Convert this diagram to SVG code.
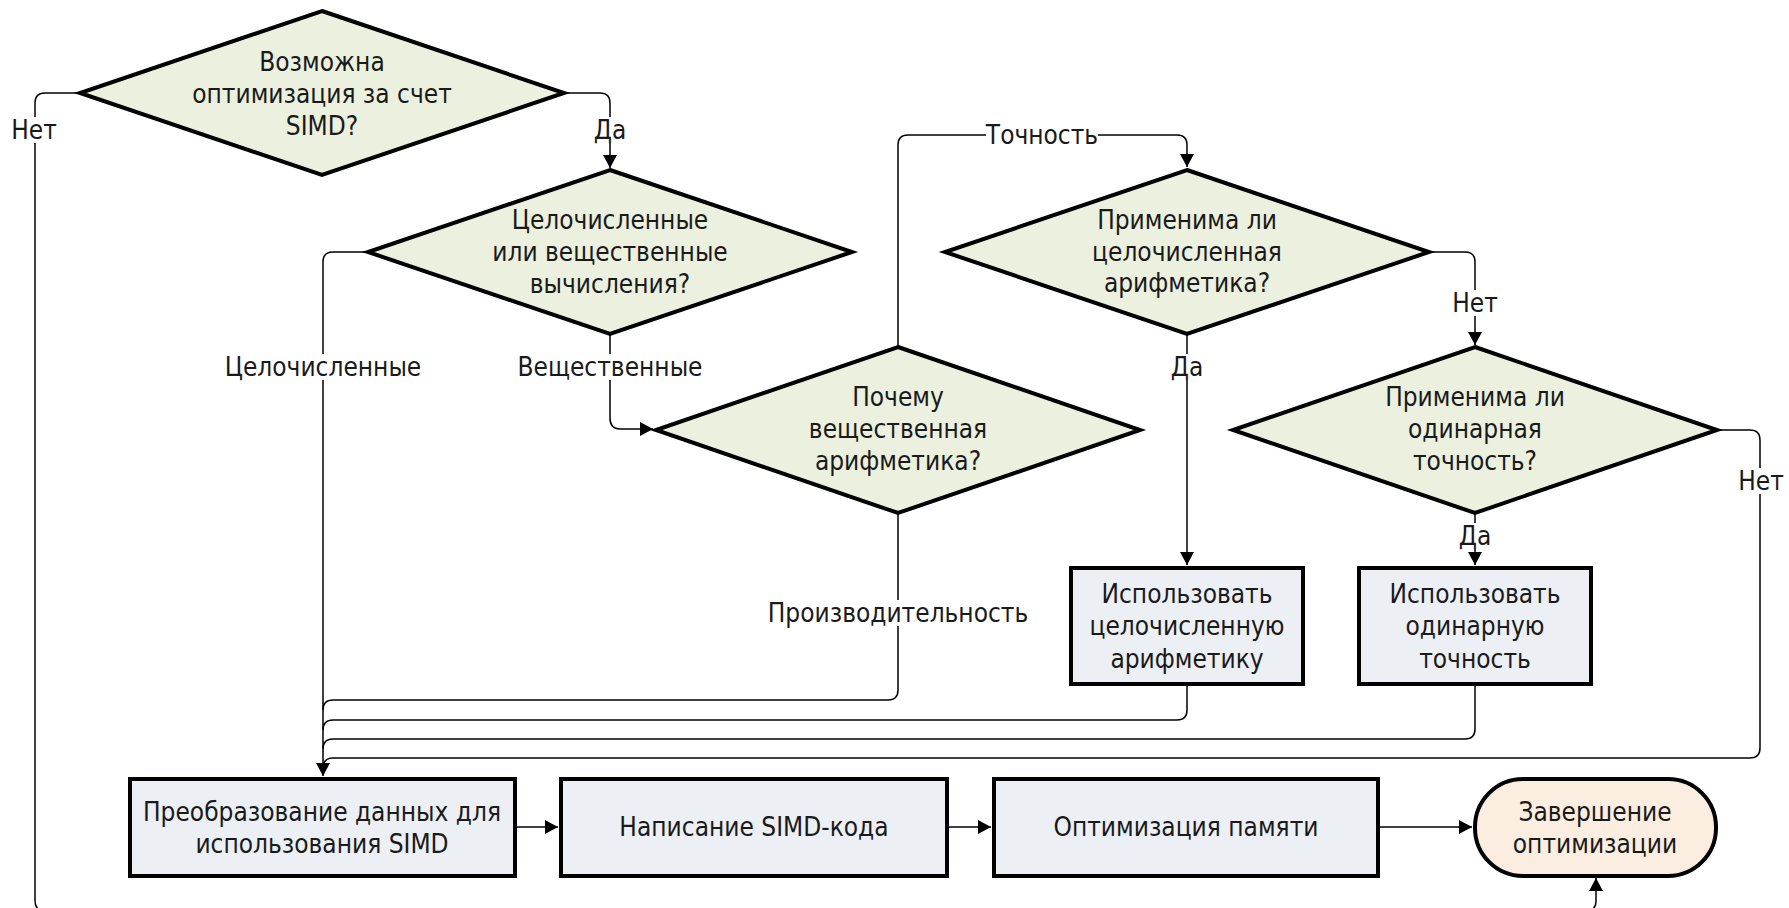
<svg xmlns="http://www.w3.org/2000/svg" width="1789" height="908" viewBox="0 0 1789 908">
<style>
.bg{fill:#ffffff}
.dec{fill:#ebf0df;stroke:#000;stroke-width:4;stroke-linejoin:miter}
.box{fill:#eceff4;stroke:#000;stroke-width:4}
.term{fill:#fcede1;stroke:#000;stroke-width:4}
.t{font-family:"DejaVu Sans Condensed","DejaVu Sans",sans-serif;font-size:26px;fill:#1a1a1a;text-anchor:middle;dominant-baseline:central}
.c{fill:none;stroke:#000;stroke-width:1.5}
.lb{fill:#ffffff}
</style>
<defs>
<marker id="ah" markerUnits="userSpaceOnUse" markerWidth="14" markerHeight="14" refX="13" refY="7" orient="auto">
<path d="M0,0 L13,7 L0,14 z" fill="#000"/>
</marker>
</defs>
<rect class="bg" x="0" y="0" width="1789" height="908"/>

<g id="connectors">
<path class="c" d="M80,93 H45 Q35,93 35,103 V900 Q35,911 45,911 H1586 Q1596,911 1596,901 V878" marker-end="url(#ah)"/>
<path class="c" d="M564,93 H600 Q610,93 610,103 V168" marker-end="url(#ah)"/>
<path class="c" d="M368,252 H333 Q323,252 323,262 V776" marker-end="url(#ah)"/>
<path class="c" d="M610,334 V418 Q610,429 620,429 H653" marker-end="url(#ah)"/>
<path class="c" d="M898,347 V145 Q898,135 908,135 H1177 Q1187,135 1187,145 V167" marker-end="url(#ah)"/>
<path class="c" d="M1429,252 H1465 Q1475,252 1475,262 V345" marker-end="url(#ah)"/>
<path class="c" d="M1187,333 V565" marker-end="url(#ah)"/>
<path class="c" d="M1475,512 V565" marker-end="url(#ah)"/>
<path class="c" d="M898,513 V690 Q898,700 888,700 H333 Q323,700 323,710"/>
<path class="c" d="M1187,685 V710 Q1187,720 1177,720 H333 Q323,720 323,730"/>
<path class="c" d="M1475,685 V729 Q1475,739 1465,739 H333 Q323,739 323,749"/>
<path class="c" d="M1717,430 H1750 Q1760,430 1760,440 V748 Q1760,758 1750,758 H333 Q323,758 323,768"/>
<path class="c" d="M515,827 H558" marker-end="url(#ah)"/>
<path class="c" d="M947,827 H991" marker-end="url(#ah)"/>
<path class="c" d="M1378,827 H1472" marker-end="url(#ah)"/>
<g id="labels">
<rect class="lb" x="12" y="117" width="46" height="26"/>
<text class="t" x="34" y="130">Нет</text>
<rect class="lb" x="594" y="117" width="32" height="26"/>
<text class="t" x="610" y="130">Да</text>
<rect class="lb" x="224" y="354" width="198" height="26"/>
<text class="t" x="323" y="367">Целочисленные</text>
<rect class="lb" x="519" y="354" width="182" height="26"/>
<text class="t" x="610" y="367">Вещественные</text>
<rect class="lb" x="986" y="122" width="112" height="26"/>
<text class="t" x="1042" y="135">Точность</text>
<rect class="lb" x="1452" y="290" width="46" height="26"/>
<text class="t" x="1475" y="303">Нет</text>
<rect class="lb" x="1171" y="354" width="32" height="26"/>
<text class="t" x="1187" y="367">Да</text>
<rect class="lb" x="770" y="600" width="256" height="26"/>
<text class="t" x="898" y="613">Производительность</text>
<rect class="lb" x="1459" y="523" width="32" height="26"/>
<text class="t" x="1475" y="536">Да</text>
<rect class="lb" x="1738" y="468" width="46" height="26"/>
<text class="t" x="1761" y="481">Нет</text>
</g>
</g>

<g id="d1">
<polygon class="dec" points="322,11 564,93 322,175 80,93"/>
<text class="t" x="322" y="62">Возможна</text>
<text class="t" x="322" y="94">оптимизация за счет</text>
<text class="t" x="322" y="126">SIMD?</text>
</g>
<g id="d2">
<polygon class="dec" points="610,170 852,252 610,334 368,252"/>
<text class="t" x="610" y="220">Целочисленные</text>
<text class="t" x="610" y="252">или вещественные</text>
<text class="t" x="610" y="284">вычисления?</text>
</g>
<g id="d3">
<polygon class="dec" points="898,347 1140,430 898,513 656,430"/>
<text class="t" x="898" y="397">Почему</text>
<text class="t" x="898" y="429">вещественная</text>
<text class="t" x="898" y="461">арифметика?</text>
</g>
<g id="d4">
<polygon class="dec" points="1187,170 1429,252 1187,334 945,252"/>
<text class="t" x="1187" y="220">Применима ли</text>
<text class="t" x="1187" y="252">целочисленная</text>
<text class="t" x="1187" y="283">арифметика?</text>
</g>
<g id="d5">
<polygon class="dec" points="1475,347 1717,430 1475,513 1233,430"/>
<text class="t" x="1475" y="397">Применима ли</text>
<text class="t" x="1475" y="429">одинарная</text>
<text class="t" x="1475" y="461">точность?</text>
</g>
<g id="b1">
<rect class="box" x="1071" y="568" width="232" height="116"/>
<text class="t" x="1187" y="594">Использовать</text>
<text class="t" x="1187" y="626">целочисленную</text>
<text class="t" x="1187" y="659">арифметику</text>
</g>
<g id="b2">
<rect class="box" x="1359" y="568" width="232" height="116"/>
<text class="t" x="1475" y="594">Использовать</text>
<text class="t" x="1475" y="626">одинарную</text>
<text class="t" x="1475" y="659">точность</text>
</g>
<g id="p1">
<rect class="box" x="130" y="779" width="385" height="97"/>
<text class="t" x="322" y="812">Преобразование данных для</text>
<text class="t" x="322" y="844">использования SIMD</text>
</g>
<g id="p2">
<rect class="box" x="561" y="779" width="386" height="97"/>
<text class="t" x="754" y="827">Написание SIMD-кода</text>
</g>
<g id="p3">
<rect class="box" x="994" y="779" width="384" height="97"/>
<text class="t" x="1186" y="827">Оптимизация памяти</text>
</g>
<g id="end">
<rect class="term" x="1475" y="779" width="241" height="97" rx="48" ry="48"/>
<text class="t" x="1595" y="812">Завершение</text>
<text class="t" x="1595" y="844">оптимизации</text>
</g>
</svg>
